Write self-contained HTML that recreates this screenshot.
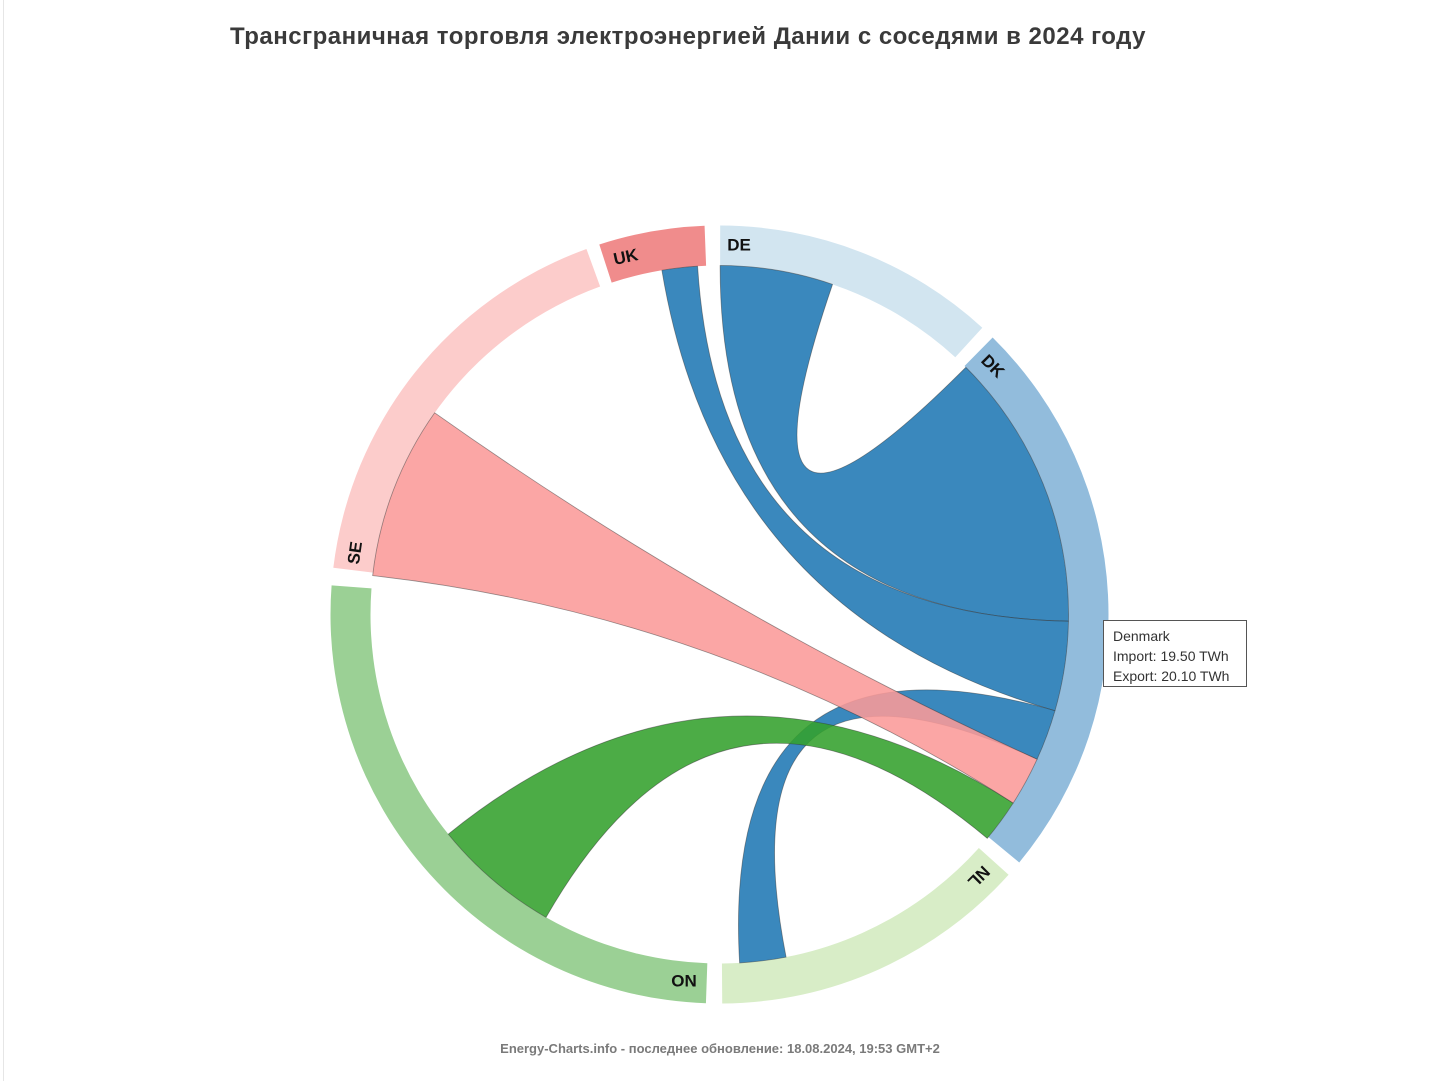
<!DOCTYPE html>
<html><head><meta charset="utf-8"><style>
html,body{margin:0;padding:0;background:#fff;}
body{width:1431px;height:1081px;position:relative;overflow:hidden;font-family:"Liberation Sans",sans-serif;}
#bl{position:absolute;left:3px;top:0;width:1px;height:1081px;background:#e6e6e6;}
#title{position:absolute;left:0;width:1376px;top:23px;text-align:center;font-size:24px;font-weight:bold;color:#3a3a3a;letter-spacing:0.5px;}
#foot{position:absolute;left:0;width:1440px;top:1041px;text-align:center;font-size:13px;font-weight:bold;color:#7a7a7a;}
#tip{position:absolute;left:1103px;top:620px;width:133px;height:60px;border:1px solid #555;background:#fff;padding:5px 0 0 9px;font-size:14px;line-height:20px;color:#333;}
svg{position:absolute;left:0;top:0;}
</style></head><body>
<div id="bl"></div>
<div id="title">Трансграничная торговля электроэнергией Дании с соседями в 2024 году</div>
<svg id="s" width="1431" height="1081"></svg>
<div id="tip">Denmark<br>Import: 19.50 TWh<br>Export: 20.10 TWh</div>
<div id="foot">Energy-Charts.info - последнее обновление: 18.08.2024, 19:53 GMT+2</div>
<script>
var cx=719.5,cy=614.5,R0=349,R1=389,s=document.getElementById('s'),h='';
function P(r,a){a=a*Math.PI/180;return [cx+r*Math.sin(a),cy-r*Math.cos(a)];}
function arc(a0,a1,c){var p=P(R1,a0),q=P(R1,a1),r=P(R0,a1),t=P(R0,a0),l=(a1-a0)>180?1:0;
h+='<path d="M'+p+' A'+R1+','+R1+' 0 '+l+' 1 '+q+' L'+r+' A'+R0+','+R0+' 0 '+l+' 0 '+t+'Z" fill="'+c+'"/>';}
function rib(a0,a1,b0,b1,c){var p=P(R0,a0),q=P(R0,a1),r=P(R0,b0),t=P(R0,b1);
h+='<path d="M'+p+' A'+R0+','+R0+' 0 0 1 '+q+' Q'+cx+','+cy+' '+r+' A'+R0+','+R0+' 0 0 1 '+t+' Q'+cx+','+cy+' '+p+'Z" fill="'+c+'" fill-opacity="0.88" stroke="#333" stroke-opacity="0.5" stroke-width="0.8"/>';}
arc(0.1,42.5,'#d2e5f0');arc(44.6,129.6,'#92bcdc');arc(132,179.6,'#d8edc7');
arc(182,274.3,'#9bd095');arc(276.9,340,'#fccccb');arc(342,357.8,'#f08c8c');
rib(0.1,18.9,44.9,91.1,'#1f77b4');
rib(350.5,356.4,91.1,106,'#1f77b4');
rib(106,114.5,169,176.7,'#1f77b4');
rib(209.8,231,122.7,129.9,'#33a02c');
rib(276.4,305.3,114.5,122.7,'#fb9a99');
function lab(t,x,y,r){h+='<text x="'+x+'" y="'+y+'" transform="rotate('+r+' '+x+' '+y+')" font-family="Liberation Sans,sans-serif" font-weight="bold" font-size="17" fill="#111" text-anchor="middle" dominant-baseline="middle">'+t+'</text>';}
lab('DE',739,246,0);lab('DK',992,367,45);lab('UK',626,258,-12);lab('SE',356,553,-82);lab('ON',684,982,0);lab('NL',978,876,135);
s.innerHTML=h;
</script>
</body></html>
